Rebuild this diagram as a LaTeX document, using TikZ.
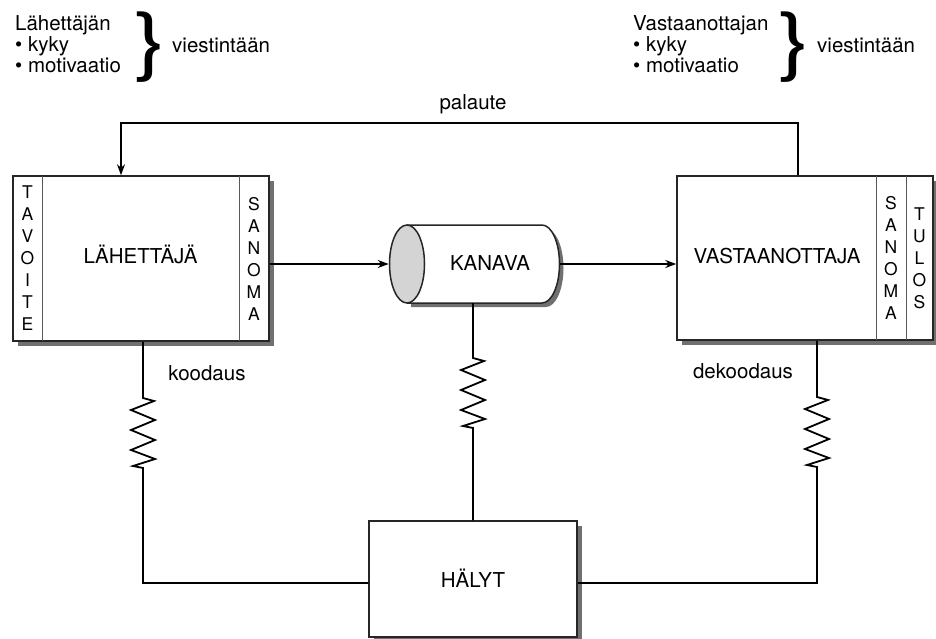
\documentclass[tikz,border=0pt]{standalone}
\usepackage{fontspec}
\setmainfont{TeX Gyre Heros}
\usetikzlibrary{arrows.meta,shapes.geometric,shadows,calc}
\tikzset{
  box/.style={draw=black!85, line width=1.5pt, fill=white, inner sep=0pt,
    drop shadow={shadow xshift=5pt, shadow yshift=-5pt, fill=black!75, opacity=0.75}},
  divline/.style={draw=black!65, line width=0.9pt},
  conn/.style={draw=black, line width=1.8pt, line join=miter},
  arr/.style={-{Stealth[length=11pt,width=8pt]}},
  lbl/.style={font=\fontsize{20.5}{21}\selectfont, inner sep=0pt},
  striptxt/.style={font=\fontsize{17.5}{22}\selectfont, align=center, inner sep=0pt},
  bracenode/.style={inner sep=0pt, font=\fontsize{75}{75}\selectfont},
  zig/.style={insert path={-- ++(11,3) -- ++(-23,9) -- ++(24,10) -- ++(-24,10) -- ++(24,10) -- ++(-24,10) -- ++(24,9) -- ++(-22,7) -- ++(10,2)}}
}
\begin{document}
\begin{tikzpicture}[x=1pt,y=-1pt]
\useasboundingbox (0,0) rectangle (936,639);

% ---------- top texts ----------
\node[lbl,anchor=base west] (t1) at (15,31) {Lähettäjän};
\node[lbl,anchor=base west] (t2) at (15,52) {• kyky};
\node[lbl,anchor=base west] (t3) at (15,73) {• motivaatio};
\node[bracenode] (b1) at (151,47) {\scalebox{1.3}[1]{\}}};
\node[lbl,anchor=base west] (v1) at (172,53) {viestintään};

\node[lbl,anchor=base west] (r1) at (633,31) {Vastaanottajan};
\node[lbl,anchor=base west] (r2) at (633,52) {• kyky};
\node[lbl,anchor=base west] (r3) at (633,73) {• motivaatio};
\node[bracenode] (b2) at (795,47) {\scalebox{1.3}[1]{\}}};
\node[lbl,anchor=base west] (v2) at (817,53) {viestintään};

% ---------- sender box ----------
\node[box, minimum width=256pt, minimum height=165pt] (lah) at (141,258.5) {};
\draw[divline] (42,176) -- (42,341);
\draw[divline] (239,176) -- (239,341);
\node[lbl,anchor=base] (lahT) at (140.5,263) {LÄHETTÄJÄ};
\node[striptxt] (tav) at (27.5,258.5) {T\\A\\V\\O\\I\\T\\E};
\node[striptxt] (san1) at (254,258.5) {S\\A\\N\\O\\M\\A};

% ---------- receiver box ----------
\node[box, minimum width=256pt, minimum height=164pt] (vas) at (805,258) {};
\draw[divline] (876,176) -- (876,340);
\draw[divline] (906,176) -- (906,340);
\node[lbl,anchor=base] (vasT) at (777,263) {VASTAANOTTAJA};
\node[striptxt] (san2) at (891,258) {S\\A\\N\\O\\M\\A};
\node[striptxt] (tul) at (919.5,258) {T\\U\\L\\O\\S};

% ---------- channel cylinder ----------
\fill[black!75, opacity=0.75] (411,229) -- (546,229) arc[start angle=90,end angle=-90,x radius=17.5pt,y radius=39pt] -- (411,307) -- cycle;
\path[fill=white] (407,225) -- (542,225) arc[start angle=90,end angle=-90,x radius=17.5pt,y radius=39pt] -- (407,303) -- cycle;
\draw[draw=black!85, line width=1.5pt] (407,225) -- (542,225) arc[start angle=90,end angle=-90,x radius=17.5pt,y radius=39pt] -- (407,303);
\node[ellipse, draw=black!85, line width=1.5pt, fill=black!17, minimum width=35pt, minimum height=78pt, inner sep=0pt] (kanL) at (407,264) {};
\node[lbl,anchor=base] (kanT) at (490,270) {KANAVA};
\coordinate (kanR) at (559.5,264);
\coordinate (kanB) at (473,303);

% ---------- noise box ----------
\node[box, minimum width=208pt, minimum height=116pt] (hal) at (473,579) {};
\node[lbl,anchor=base] (halT) at (473,587) {HÄLYT};

% ---------- labels ----------
\node[lbl,anchor=base] (pal) at (473,110) {palaute};
\node[lbl,anchor=base] (koo) at (207,380) {koodaus};
\node[lbl,anchor=base] (dek) at (743,378) {dekoodaus};

% ---------- connectors ----------
\coordinate (fbR) at (798,123);
\coordinate (fbL) at (121,123);
\draw[conn,arr] (fbR |- vas.north) -- (fbR) -- (fbL) -- (fbL |- lah.north);

\draw[conn,arr] (lah.east |- kanL) -- (kanL.west);
\draw[conn,arr] (kanR) -- (vas.west |- kanR);

\coordinate (zl) at (143,398);
\coordinate (hl) at (143,583);
\draw[conn] (zl |- lah.south) -- (zl) [zig] -- (hl) -- (hal.west |- hl);

\coordinate (zr) at (817,397);
\coordinate (hr) at (817,583);
\draw[conn] (zr |- vas.south) -- (zr) [zig] -- (hr) -- (hal.east |- hr);

\coordinate (zm) at (473,358);
\draw[conn] (kanB) -- (zm) [zig] -- (zm |- hal.north);
\end{tikzpicture}
\end{document}
